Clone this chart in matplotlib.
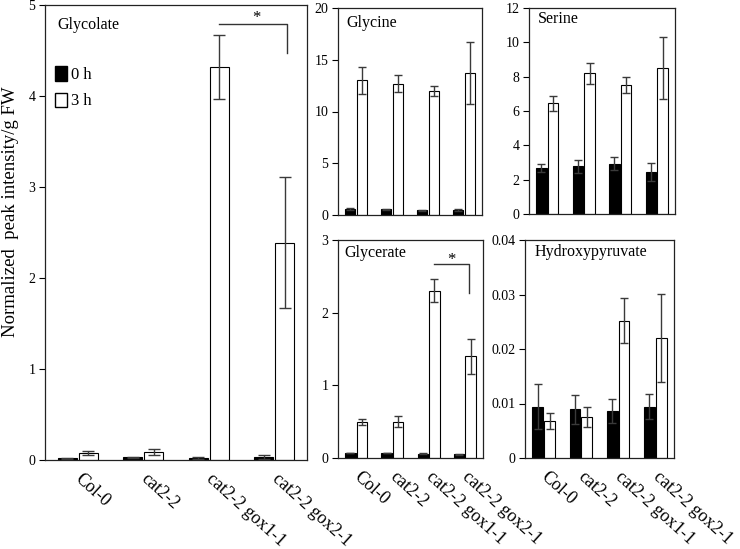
import matplotlib
matplotlib.use("Agg")
import matplotlib.pyplot as plt
from matplotlib.patches import Patch
import numpy as np

plt.rcParams['font.family'] = ['Liberation Serif', 'DejaVu Serif']

genotypes = ["Col-0", "cat2-2", "cat2-2 gox1-1", "cat2-2 gox2-1"]

glycolate_0h = [0.02, 0.03, 0.02, 0.03]
glycolate_0h_err = [0.005, 0.003, 0.008, 0.02]
glycolate_3h = [0.08, 0.09, 4.32, 2.39]
glycolate_3h_err = [0.02, 0.03, 0.35, 0.72]

glycine_0h = [0.6, 0.55, 0.45, 0.5]
glycine_0h_err = [0.08, 0.05, 0.05, 0.08]
glycine_3h = [13.0, 12.7, 12.0, 13.7]
glycine_3h_err = [1.3, 0.8, 0.5, 3.0]

serine_0h = [2.7, 2.77, 2.93, 2.45]
serine_0h_err = [0.23, 0.39, 0.37, 0.55]
serine_3h = [6.45, 8.2, 7.49, 8.49]
serine_3h_err = [0.45, 0.62, 0.47, 1.82]

glycerate_0h = [0.07, 0.07, 0.06, 0.05]
glycerate_0h_err = [0.005, 0.005, 0.01, 0.005]
glycerate_3h = [0.49, 0.50, 2.30, 1.40]
glycerate_3h_err = [0.04, 0.08, 0.16, 0.24]

hpyr_0h = [0.0094, 0.0089, 0.0087, 0.0094]
hpyr_0h_err = [0.0041, 0.0026, 0.0022, 0.0023]
hpyr_3h = [0.0068, 0.0075, 0.0252, 0.022]
hpyr_3h_err = [0.0014, 0.0018, 0.0041, 0.0081]

W, H = 740, 549
fig = plt.figure(figsize=(W / 100, H / 100), dpi=100)

def rect(l, t, r, b):
    return [l / W, 1 - b / H, (r - l) / W, (b - t) / H]

x = np.arange(len(genotypes))
bw = 0.29
off = 0.16
ecol = '#3a3a3a'

def panel(r, v0, e0, v3, e3, ymax, step, title, fmt, cap=3, xlabels=True, title_xy=(0.08, 0.93)):
    ax = fig.add_axes(r)
    ax.bar(x - off, v0, bw, color='black', edgecolor='black', linewidth=0.8, zorder=2)
    ax.bar(x + off, v3, bw, color='white', edgecolor='black', linewidth=0.8, zorder=2)
    ax.errorbar(x - off, v0, yerr=e0, fmt='none', ecolor=ecol, elinewidth=1, capsize=cap, capthick=1, zorder=3)
    ax.errorbar(x + off, v3, yerr=e3, fmt='none', ecolor=ecol, elinewidth=1, capsize=cap, capthick=1, zorder=3)
    ax.set_xlim(-0.5, 3.5)
    ax.set_ylim(0, ymax)
    ticks = np.arange(0, ymax + step / 2, step)
    ax.set_yticks(ticks)
    ax.set_yticklabels([fmt(t) for t in ticks], fontsize=10)
    ax.tick_params(axis='y', direction='out', length=4, width=0.8, pad=3)
    ax.set_xticks(x)
    if xlabels:
        ax.set_xticklabels(genotypes, fontsize=12.9, rotation=-42, ha='left', va='center',
                           rotation_mode='anchor')
        ax.tick_params(axis='x', length=0, pad=12)
    else:
        ax.set_xticklabels([])
        ax.tick_params(axis='x', length=0)
    for s in ax.spines.values():
        s.set_linewidth(0.9)
        s.set_color('#222222')
    ax.text(title_xy[0], title_xy[1], title, transform=ax.transAxes, fontsize=11.5,
            ha='left', va='center')
    return ax

fmt_int = lambda t: f"{t:g}"
fmt_hp = lambda t: "0" if t == 0 else f"{t:.2f}"

ax1 = panel(rect(45, 5, 307, 460), glycolate_0h, glycolate_0h_err, glycolate_3h, glycolate_3h_err,
            5, 1, "Glycolate", fmt_int, cap=4, title_xy=(0.046, 0.955))
ax1.set_ylabel("Normalized  peak intensity/g FW", fontsize=13.5)
ax1.yaxis.set_label_coords(-0.098, 0.545)
ax1.plot([2.16, 3.2, 3.2], [4.79, 4.79, 4.47], color='#333333', lw=1)
ax1.text(2.72, 4.86, "*", ha='center', va='center', fontsize=12)
ax1.legend(handles=[Patch(facecolor='black', edgecolor='black', label='0 h'),
                    Patch(facecolor='white', edgecolor='black', label='3 h')],
           loc='upper left', bbox_to_anchor=(0.04, 0.865), frameon=False, fontsize=12,
           handlelength=0.7, handleheight=0.95, handletextpad=0.25, labelspacing=0.55,
           borderpad=0, borderaxespad=0)

panel(rect(338, 8, 482, 215), glycine_0h, glycine_0h_err, glycine_3h, glycine_3h_err,
      20, 5, "Glycine", fmt_int, xlabels=False, title_xy=(0.056, 0.928))
panel(rect(529, 8, 675, 214), serine_0h, serine_0h_err, serine_3h, serine_3h_err,
      12, 2, "Serine", fmt_int, xlabels=False, title_xy=(0.06, 0.945))
ax4 = panel(rect(338, 240, 483, 458), glycerate_0h, glycerate_0h_err, glycerate_3h, glycerate_3h_err,
            3, 1, "Glycerate", fmt_int, title_xy=(0.046, 0.94))
ax4.plot([2.15, 3.11, 3.11], [2.67, 2.67, 2.27], color='#333333', lw=1)
ax4.text(2.63, 2.72, "*", ha='center', va='center', fontsize=12)
panel(rect(525, 240, 674, 458), hpyr_0h, hpyr_0h_err, hpyr_3h, hpyr_3h_err,
      0.04, 0.01, "Hydroxypyruvate", fmt_hp, title_xy=(0.066, 0.945))

fig.savefig("out.png", dpi=100)
